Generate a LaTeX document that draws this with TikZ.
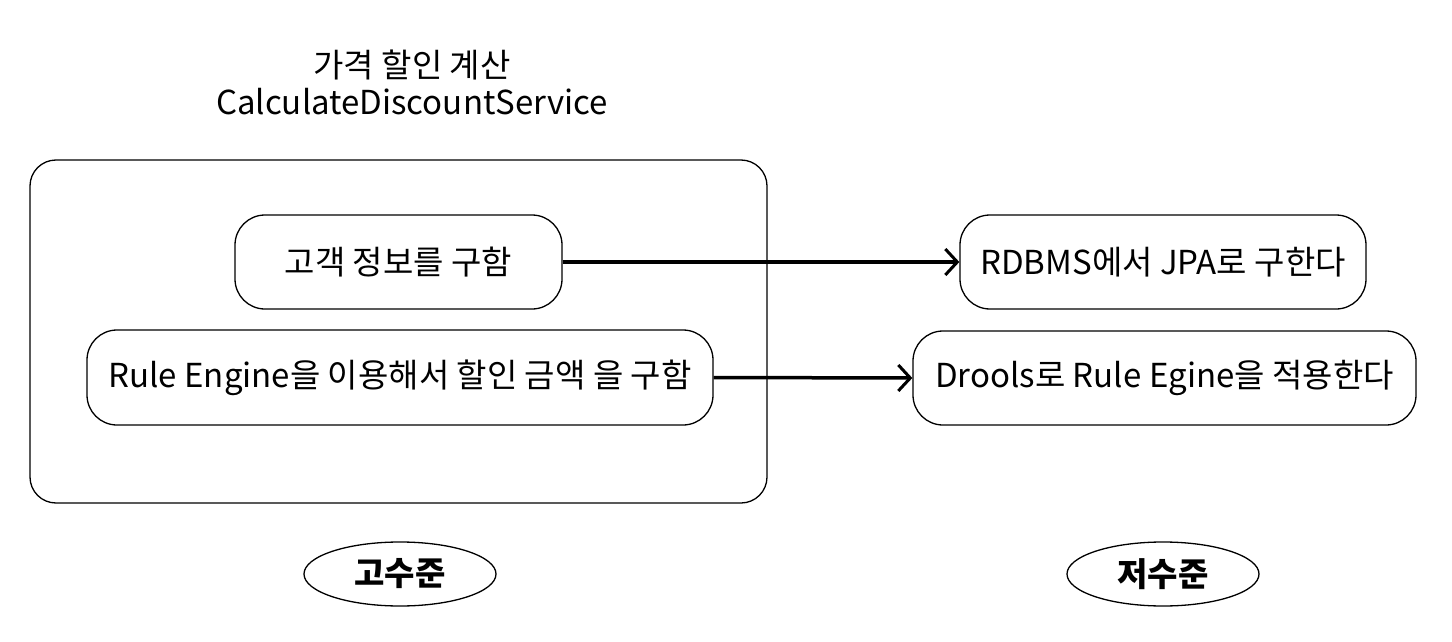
\documentclass[tikz,border=0pt]{standalone}
\usepackage{fontspec}
\setmainfont{Noto Sans CJK KR}
\usetikzlibrary{arrows.meta,shapes.geometric}

\tikzstyle{box}=[draw, line width=1.3pt, rounded corners=30pt, font=\fontsize{33}{38}\selectfont]
\tikzstyle{arrow}=[line width=3.5pt, -{Straight Barb[length=12pt,width=26pt,line width=3pt]}]
\tikzstyle{level}=[draw, ellipse, line width=1.3pt, minimum width=192pt, minimum height=64pt, font=\fontsize{33}{38}\selectfont\bfseries]
\tikzstyle{title}=[font=\fontsize{33}{38}\selectfont]

\begin{document}
\begin{tikzpicture}[x=1pt, y=-1pt]
      \useasboundingbox (0, 0) rectangle (1452, 642);

      \node[title] (name) at (412, 65) {가격 할인 계산};
      \node[title] (svc) at (412, 102) {CalculateDiscountService};

      \node[box, rounded corners=26pt, minimum width=737pt, minimum height=343pt] (high) at (398.5, 331.5) {};

      \node[box, minimum width=327pt, minimum height=94pt] (customer) at (398.5, 262) {고객 정보를 구함};
      \node[box, minimum width=626pt, minimum height=95pt] (discount) at (400, 377.5) {Rule Engine을 이용해서 할인 금액 을 구함};

      \node[box, minimum width=406pt, minimum height=94pt] (jpa) at (1163, 262) {RDBMS에서 JPA로 구한다};
      \node[box, minimum width=503pt, minimum height=94pt] (drools) at (1164.5, 378) {Drools로 Rule Egine을 적용한다};

      \node[level] (hi) at (400, 574) {고수준};
      \node[level] (lo) at (1163, 574) {저수준};

      \draw[arrow] (customer.east) -- (jpa.west);
      \draw[arrow] (discount.east) -- (drools.west);
    \end{tikzpicture}
\end{document}
